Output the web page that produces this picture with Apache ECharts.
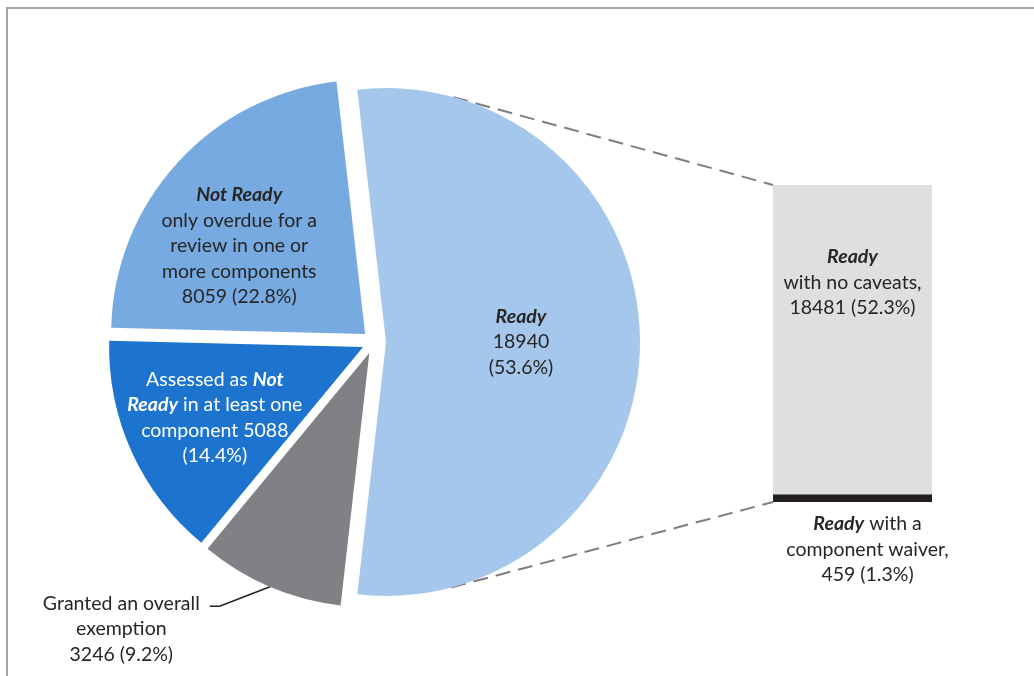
<!DOCTYPE html>
<html>
<head>
<meta charset="utf-8">
<script src="https://cdn.jsdelivr.net/npm/echarts@6/dist/echarts.min.js"></script>
<style>
  html, body { margin: 0; padding: 0; background: #fff; }
  #chart { width: 1034px; height: 676px; }
</style>
</head>
<body>
<div id="chart"></div>
<script>
// Overall readiness breakdown (pie), clockwise from the Ready slice
const pieKeys   = ['ready', 'exempt', 'assessed', 'overdue'];
const pieValues = [18940, 3246, 5088, 8059];
const pieColors = ['#A4C7EB', '#808184', '#1C74CE', '#76AAE0'];

// Split of the Ready slice (bar), bottom to top
const barKeys   = ['waiver', 'noCaveats'];
const barValues = [459, 18481];
const barColors = ['#231F20', '#DEDFE1'];

const total = pieValues.reduce((a, b) => a + b, 0);
const pct = v => (v / total * 100).toFixed(1) + '%';

const FONT = 'Lato';
const FS = 19.5;
const LH = 25.5;
const TXT = '#262626';

// pie geometry
const CX = 374, CY = 342, R = 254, OFF = 12;
// bar geometry
const BAR = { left: 773, top: 185, width: 159, height: 317 };

const pieLabelText = {
  ready:    v => '{bi|Ready}\n{n|' + v + '}\n{n|(' + pct(v) + ')}',
  exempt:   v => '{n|Granted an overall}\n{n|exemption}\n{n|' + v + ' (' + pct(v) + ')}',
  assessed: v => '{w|Assessed as }{wbi|Not}\n{wbi|Ready}{w| in at least one}\n{w|component ' + v + '}\n{w|(' + pct(v) + ')}',
  overdue:  v => '{bi|Not Ready}\n{n|only overdue for a}\n{n|review in one or}\n{n|more components}\n{n|' + v + ' (' + pct(v) + ')}'
};
const barLabelText = {
  waiver:    v => '{bi|Ready}{n| with a}\n{n|component waiver,}\n{n|' + v + ' (' + pct(v) + ')}',
  noCaveats: v => '{bi|Ready}\n{n|with no caveats,}\n{n|' + v + ' (' + pct(v) + ')}'
};

const base = { fontFamily: FONT, fontSize: FS, lineHeight: LH, align: 'center' };
const rich = {
  n:   Object.assign({ color: TXT }, base),
  bi:  Object.assign({ color: TXT, fontWeight: 'bold', fontStyle: 'italic' }, base),
  w:   Object.assign({ color: '#FFFFFF' }, base),
  wbi: Object.assign({ color: '#FFFFFF', fontWeight: 'bold', fontStyle: 'italic' }, base)
};

// Ready slice centred on the right-hand side
const startAngle = pieValues[0] / total * 180;

// padding nudges each label block away from the slice's default anchor
const labelPadding = {
  ready:    [0, 0, 0, 10],
  exempt:   [46, 5, 0, 0],
  assessed: [34, 60, 0, 0],
  overdue:  [0, 60, 0, 0]
};

const pieData = pieValues.map((v, i) => {
  const key = pieKeys[i];
  const outside = key === 'exempt';
  return {
    name: key,
    value: v,
    selected: true,
    itemStyle: { color: pieColors[i] },
    label: {
      position: outside ? 'outside' : 'inside',
      padding: labelPadding[key],
      distanceToLabelLine: 5,
      formatter: () => pieLabelText[key](v)
    },
    labelLine: outside
      ? { show: true, length: 21, length2: 52, smooth: false, minTurnAngle: 159,
          lineStyle: { color: '#231F20', width: 1.5 } }
      : { show: false }
  };
});

const barTotal = barValues.reduce((a, b) => a + b, 0);

const barSeries = barValues.map((v, i) => ({
  type: 'bar',
  name: barKeys[i],
  stack: 'ready',
  barWidth: '100%',
  data: [v],
  silent: true,
  itemStyle: { color: barColors[i] },
  label: barKeys[i] === 'waiver'
    ? { show: true, position: 'bottom', distance: 9, offset: [15, 0], formatter: () => barLabelText.waiver(v), rich: rich }
    : { show: true, position: 'inside', offset: [0, -57], formatter: () => barLabelText.noCaveats(v), rich: rich }
}));

// dashed connectors: tangents from the bar's left corners to the Ready slice
function tangentPoint(px, py, sign) {
  const ox = CX + OFF, oy = CY;
  const dx = px - ox, dy = py - oy;
  const d = Math.hypot(dx, dy);
  const t = Math.atan2(dy, dx) + sign * Math.acos(R / d);
  return [ox + R * Math.cos(t), oy + R * Math.sin(t)];
}
const topCorner = [BAR.left, BAR.top];
const bottomCorner = [BAR.left, BAR.top + BAR.height];
const tTop = tangentPoint(topCorner[0], topCorner[1], -1);
const tBottom = tangentPoint(bottomCorner[0], bottomCorner[1], 1);

const dashStyle = { stroke: '#7F7F7F', lineWidth: 2, lineDash: [15, 8] };

const option = {
  animation: false,
  backgroundColor: '#FFFFFF',
  grid: { left: BAR.left, top: BAR.top, width: BAR.width, height: BAR.height },
  xAxis: { type: 'category', data: ['Ready'], show: false },
  yAxis: { type: 'value', min: 0, max: barTotal, show: false },
  graphic: [
    { type: 'rect', shape: { x: 7, y: 8, width: 1100, height: 720 }, style: { fill: 'none', stroke: '#A6A6A6', lineWidth: 2 }, silent: true },
    { type: 'line', shape: { x1: tTop[0], y1: tTop[1], x2: topCorner[0], y2: topCorner[1] }, style: dashStyle, silent: true },
    { type: 'line', shape: { x1: tBottom[0], y1: tBottom[1], x2: bottomCorner[0], y2: bottomCorner[1] }, style: dashStyle, silent: true }
  ],
  series: [
    {
      type: 'pie',
      center: [CX, CY],
      radius: [0, R],
      startAngle: startAngle,
      clockwise: true,
      selectedMode: 'multiple',
      selectedOffset: OFF,
      avoidLabelOverlap: false,
      emphasis: { disabled: true },
      label: { show: true, rich: rich },
      data: pieData
    }
  ].concat(barSeries)
};

const chart = echarts.init(document.getElementById('chart'), null, { renderer: 'canvas' });
chart.setOption(option);
</script>
</body>
</html>
